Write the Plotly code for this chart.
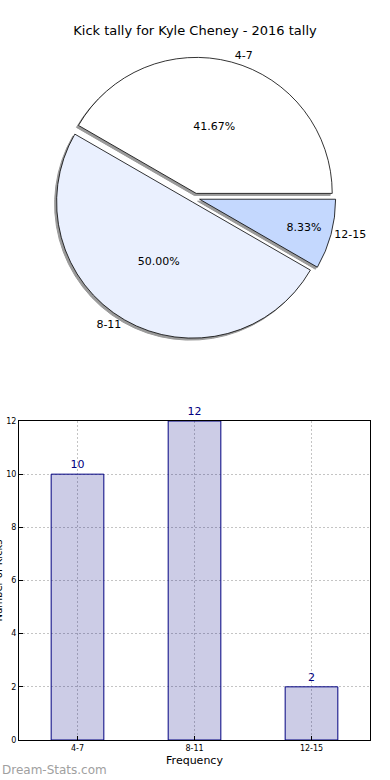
import plotly.graph_objects as go

categories = ["4-7", "8-11", "12-15"]
counts = [10, 12, 2]
pie_colors = ["#ffffff", "#eaf0fe", "#c4d8fe"]
y_ticks = [0, 2, 4, 6, 8, 10, 12]

W, H = 390, 780
ML, MR, MT, MB = 19, 20, 0, 40
PW, PH = W - ML - MR, H - MT - MB

# pie geometry (pixels)
cx, cy, r, pull = 195, 198, 136, 0.035
ext = r * (1 + pull)
dom_x = [(cx - ext - ML) / PW, (cx + ext - ML) / PW]
dom_y = [(PH - (cy + ext)) / PH, (PH - (cy - ext)) / PH]
sx, sy = -2 / PW, -2 / PH

font = "DejaVu Sans, Verdana, sans-serif"
fig = go.Figure()
rot = -60

# shadow
fig.add_trace(go.Pie(
    labels=categories, values=counts, sort=False, direction="counterclockwise",
    rotation=rot, pull=[pull] * 3, textinfo="none", hoverinfo="skip",
    marker=dict(colors=["#9a9a9a"] * 3, line=dict(color="#9a9a9a", width=1)),
    domain=dict(x=[dom_x[0] + sx, dom_x[1] + sx], y=[dom_y[0] + sy, dom_y[1] + sy]),
    showlegend=False,
))
# main pie with percentages
fig.add_trace(go.Pie(
    labels=categories, values=counts, sort=False, direction="counterclockwise",
    rotation=rot, pull=[pull] * 3, texttemplate="%{percent:.2%}",
    textposition="inside", insidetextorientation="horizontal",
    textfont=dict(family=font, size=11, color="black"),
    marker=dict(colors=pie_colors, line=dict(color="black", width=0.8)),
    domain=dict(x=dom_x, y=dom_y), showlegend=False,
))
# outside labels
fig.add_trace(go.Pie(
    labels=categories, values=counts, sort=False, direction="counterclockwise",
    rotation=rot, pull=[pull] * 3, texttemplate="%{label}",
    textposition="outside",
    outsidetextfont=dict(family=font, size=11, color="black"),
    marker=dict(colors=["rgba(0,0,0,0)"] * 3, line=dict(width=0)),
    domain=dict(x=dom_x, y=dom_y), showlegend=False, hoverinfo="skip",
))

# bar chart
fig.add_trace(go.Bar(
    x=categories, y=counts, width=0.45,
    marker=dict(color="rgba(0,0,128,0.2)", line=dict(color="navy", width=1)),
    text=[str(c) for c in counts], textposition="outside",
    textfont=dict(family=font, size=11, color="navy"), cliponaxis=False,
    showlegend=False,
))

grid = dict(showgrid=True, gridcolor="#c4c4c4", griddash="2px,2px", gridwidth=1)
bar_top = 421
fig.update_layout(
    width=W, height=H,
    margin=dict(l=ML, r=MR, t=MT, b=MB, autoexpand=False),
    paper_bgcolor="white", plot_bgcolor="white",
    font=dict(family=font, color="black"),
    title=dict(text="Kick tally for Kyle Cheney - 2016 tally", x=0.5, xanchor="center",
               xref="container", yref="container",
               y=1 - 30 / H, yanchor="middle", font=dict(size=13, color="black")),
    xaxis=dict(
        domain=[0, 1], range=[-0.5, 2.5], showline=True, mirror=True, linecolor="black",
        linewidth=1, ticks="inside", ticklen=4, tickcolor="black", tickfont=dict(size=8),
        title=dict(text="Frequency", font=dict(size=11), standoff=4), zeroline=False,
        automargin=False, **grid,
    ),
    yaxis=dict(
        domain=[0, (PH - bar_top) / PH], range=[0, 12], tickvals=y_ticks,
        showline=True, mirror=True, linecolor="black", linewidth=1,
        ticks="inside", ticklen=4, tickcolor="black", tickfont=dict(size=8),
        zeroline=False, automargin=False, **grid,
    ),
    annotations=[
        dict(text="Number of Kicks", textangle=-90, xref="paper", yref="paper",
             x=-(ML + 2) / PW, y=(PH - bar_top) / PH / 2, xanchor="center", yanchor="middle",
             showarrow=False, font=dict(size=10, color="black")),
        dict(text="Dream-Stats.com", xref="paper", yref="paper",
             x=-ML / PW, y=-30 / PH, xanchor="left", yanchor="middle",
             showarrow=False, font=dict(size=12, color="#a0a0a0")),
    ],
)

fig.write_html("out.html", config={"displayModeBar": False},
               post_script="document.body.style.margin='0px';")
